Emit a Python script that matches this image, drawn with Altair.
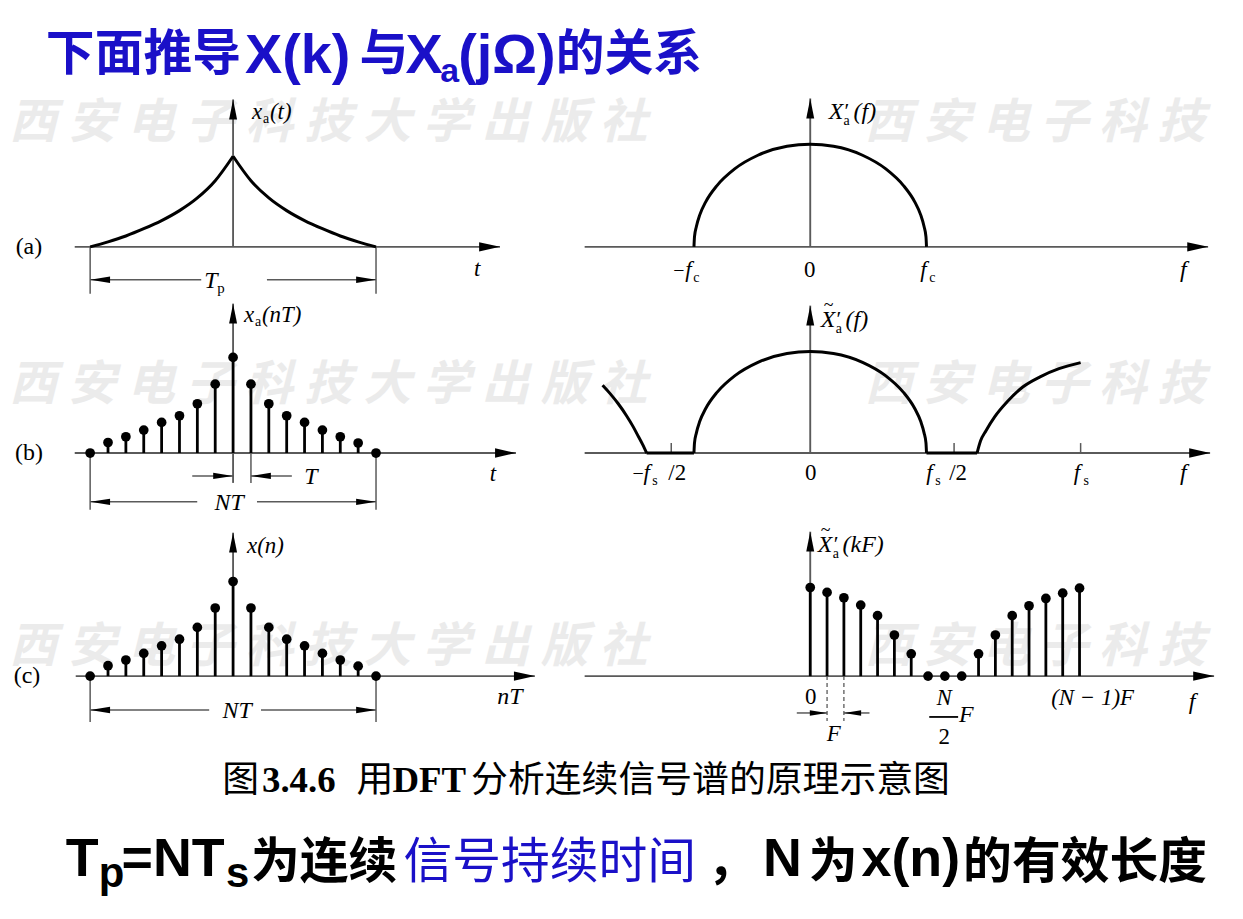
import altair as alt
import pandas as pd

# ---------------- values ----------------
# left column: x_a(t) sampled at t = nT, n = -8..8 (peak normalised to 1)
n_idx = list(range(-8, 9))
xa_samples = [0.0, 0.11, 0.17, 0.24, 0.32, 0.39, 0.515, 0.72, 1.0,
              0.72, 0.515, 0.39, 0.32, 0.24, 0.17, 0.105, 0.0]
# (a) left: continuous x_a(t) for t <= 0 (mirrored for t >= 0)
curve_t = [-8, -7, -6, -5, -4, -3, -2, -1, 0]
curve_h = [0.0, 0.055, 0.12, 0.2, 0.29, 0.4, 0.54, 0.73, 1.0]

# right column: spectrum, f in units of fs
lobe_f = [-0.43, -0.428, -0.421, -0.4085, -0.387, -0.344, -0.2795, -0.1935, -0.086, 0.0,
          0.086, 0.1935, 0.2795, 0.344, 0.387, 0.4085, 0.421, 0.428, 0.43]
lobe_h = [0.0, 0.10, 0.199, 0.312, 0.436, 0.60, 0.76, 0.893, 0.98, 1.0,
          0.98, 0.893, 0.76, 0.60, 0.436, 0.312, 0.199, 0.10, 0.0]
left_lobe_f = [-0.768, -0.74, -0.71, -0.68, -0.655, -0.635, -0.62, -0.605]
left_lobe_h = [0.667, 0.585, 0.485, 0.37, 0.26, 0.16, 0.085, 0.0]
right_lobe_f = [0.617, 0.63, 0.65, 0.682, 0.73, 0.786, 0.85, 0.92, 1.0]
right_lobe_h = [0.0, 0.12, 0.22, 0.356, 0.51, 0.65, 0.75, 0.83, 0.89]
flat_start = [-0.605, 0.43]
flat_end = [-0.43, 0.617]
tick_f = [-0.514, 0.532, 1.0]

# (c) right: DFT samples, k = 0..N-1
k_idx = list(range(17))
xk_samples = [1.0, 0.944, 0.884, 0.801, 0.682, 0.464, 0.251, 0.0, 0.0, 0.0,
              0.251, 0.464, 0.682, 0.794, 0.876, 0.936, 0.992]

watermark_left = "西安电子科技大学出版社"
watermark_right = "西安电子科技"

# ---------------- styling ----------------
BLACK = "#000000"
GRAY = "#5a5a5a"
BLUE = "#1a10c8"
WM = "#ebebeb"
CJK = "Noto Sans CJK SC"
STY = {
    "it": ("Liberation Serif", "italic", "normal"),
    "rm": ("Liberation Serif", "normal", "normal"),
    "rmb": ("Liberation Serif", "normal", "bold"),
    "sb": ("Liberation Sans", "normal", "bold"),
    "cj": (CJK, "normal", "normal"),
    "cjb": (CJK, "normal", "bold"),
}
AR_R = "M0,0L-2,-0.45L-2,0.45Z"
AR_U = "M0,0L-0.4,2L0.4,2Z"
DM_R = "M0,0L-2,-0.32L-2,0.32Z"
DM_L = "M0,0L2,-0.32L2,0.32Z"


def pc(t, dx=0, dy=0, size=23, sty="it", color=BLACK):
    return (t, dx, dy, size, sty, color)


class Panel:
    def __init__(self, x0, y0, w, h, ox=0.0, pux=1.0, oy=0.0, puy=-1.0):
        self.w, self.h = w, h
        self.ox, self.pux, self.oy, self.puy = ox, pux, oy, puy
        xd = [(x0 - ox) / pux, (x0 + w - ox) / pux]
        yd = [(oy - (y0 + h)) / puy, (oy - y0) / puy]
        self.xs = alt.Scale(domain=xd, nice=False, zero=False)
        self.ys = alt.Scale(domain=yd, nice=False, zero=False)
        self.layers = []

    def xi(self, px):
        return (px - self.ox) / self.pux

    def yi(self, py):
        return (self.oy - py) / self.puy

    def X(self):
        return alt.X("x:Q", scale=self.xs, axis=None)

    def Y(self):
        return alt.Y("y:Q", scale=self.ys, axis=None)

    def rules(self, segs, color=GRAY, width=1.6, dash=None):
        df = pd.DataFrame(segs, columns=["x", "y", "x2", "y2"])
        kw = dict(color=color, strokeWidth=width)
        if dash:
            kw["strokeDash"] = dash
        self.layers.append(alt.Chart(df).mark_rule(**kw).encode(
            x=self.X(), y=self.Y(), x2=alt.X2("x2:Q"), y2=alt.Y2("y2:Q")))

    def curve(self, xs, ys, width=3.0):
        df = pd.DataFrame({"x": xs, "y": ys, "o": list(range(len(xs)))})
        self.layers.append(alt.Chart(df).mark_line(
            interpolate="monotone", color=BLACK, strokeWidth=width).encode(
            x=self.X(), y=self.Y(), order="o:Q"))

    def stems(self, xs, ys):
        df = pd.DataFrame({"x": xs, "y": ys, "y0": [0.0] * len(xs)})
        self.layers.append(alt.Chart(df).mark_rule(color=BLACK, strokeWidth=2.8).encode(
            x=self.X(), y=self.Y(), y2=alt.Y2("y0:Q")))
        self.layers.append(alt.Chart(df).mark_circle(color=BLACK, opacity=1, size=95).encode(
            x=self.X(), y=self.Y()))

    def heads(self, pts):
        df = pd.DataFrame(pts, columns=["x", "y", "s", "z"])
        self.layers.append(alt.Chart(df).mark_point(filled=True, opacity=1, color=BLACK).encode(
            x=self.X(), y=self.Y(), shape=alt.Shape("s:N", scale=None),
            size=alt.Size("z:Q", scale=None)))

    def axes(self, x_left, x_right, y_top, y_bottom=None):
        yb = 0.0 if y_bottom is None else self.yi(y_bottom)
        self.rules([(self.xi(x_left), 0.0, self.xi(x_right), 0.0),
                    (0.0, yb, 0.0, self.yi(y_top))], GRAY, 1.9)
        self.heads([(self.xi(x_right), 0.0, AR_R, 440), (0.0, self.yi(y_top), AR_U, 400)])

    def text(self, x, y, pieces, align="left", baseline="alphabetic"):
        for (t, dx, dy, size, sty, color) in pieces:
            font, style, weight = STY[sty]
            df = pd.DataFrame({"x": [self.xi(x)], "y": [self.yi(y)], "t": [t]})
            self.layers.append(alt.Chart(df).mark_text(
                align=align, baseline=baseline, dx=dx, dy=dy, font=font, fontSize=size,
                fontStyle=style, fontWeight=weight, color=color).encode(
                x=self.X(), y=self.Y(), text="t:N"))

    def watermark(self, chars, xs, y):
        df = pd.DataFrame({"x": [self.xi(v) for v in xs], "y": [self.yi(y)] * len(xs),
                           "t": list(chars)})
        self.layers.append(alt.Chart(df).mark_text(
            font=CJK, fontSize=48, fontStyle="italic", fontWeight="bold", color=WM,
            baseline="middle").encode(x=self.X(), y=self.Y(), text="t:N"))

    def chart(self):
        return alt.layer(*self.layers).properties(width=self.w, height=self.h)


WL = [28 + 59.3 * i for i in range(len(watermark_left))]
WR = [887 + 58.8 * i for i in range(len(watermark_right))]


def xa_label(p, x, y, arg):
    p.text(x, y, [pc("x", 0, 0, 23, "it"), pc("a", 11, 4, 14, "rm"), pc(arg, 18, 0, 23, "it")])


def X_label(p, x, y, arg, tilde=False):
    pieces = []
    if tilde:
        pieces.append(pc("~", 3, -16, 18, "rm"))
    pieces += [pc("X", 0, 0, 24, "it"), pc("′", 16, -1, 22, "rm"),
               pc("a", 15, 6, 14, "rm"), pc(arg, 25, 0, 24, "it")]
    p.text(x, y, pieces)


# ---------------- row (a) (also carries the title) ----------------
La = Panel(8, 8, 552, 292, 229, 17.94, 246, 91)
La.watermark(watermark_left, WL, 123)
La.axes(70, 497, 98)
yd = La.yi(279)
La.rules([(-8, 0, -8, La.yi(293)), (8, 0, 8, La.yi(293)),
          (-8, yd, La.xi(197), yd), (La.xi(263), yd, 8, yd)], GRAY, 1.5)
La.heads([(-8, yd, DM_L, 400), (8, yd, DM_R, 400)])
La.curve(curve_t, curve_h)
La.curve([-t for t in curve_t], curve_h)
La.text(24, 246, [pc("(a)", 0, 0, 24, "rm")], align="center", baseline="middle")
xa_label(La, 248, 118, "(t)")
La.text(474, 275, [pc("t", 0, 0, 23, "it")], align="center")
La.text(200, 287, [pc("T", 0, 0, 24, "it"), pc("p", 13, 5, 15, "rm")])
for x, y, t, size, sty in [(41, 68, "下面推导", 49, "cjb"), (241, 71, "X(k)", 56, "sb"),
                           (356, 68, "与", 49, "cjb"), (402, 71, "X", 56, "sb"),
                           (437, 80, "a", 34, "sb"), (455, 71, "(jΩ)", 56, "sb"),
                           (553, 68, "的关系", 49, "cjb")]:
    La.text(x, y, [pc(t, 0, 0, size, sty, BLUE)])

Ra = Panel(560, 8, 675, 292, 808.5, 271.5, 246, 103)
Ra.watermark(watermark_right, WR, 123)
Ra.axes(582, 1208, 97)
Ra.curve(lobe_f, lobe_h)
X_label(Ra, 827, 118, "(f)")
Ra.text(671, 276, [pc("−", 0, 0, 20, "rm"), pc("f", 12, 0, 23, "it"), pc("c", 20, 5, 14, "rm")])
Ra.text(808, 276, [pc("0", 0, 0, 23, "rm")], align="center")
Ra.text(919, 276, [pc("f", 0, 0, 23, "it"), pc("c", 9, 5, 14, "rm")])
Ra.text(1183, 276, [pc("f", 0, 0, 24, "it")], align="center")

# ---------------- row (b) ----------------
Lb = Panel(8, 300, 552, 220, 229, 17.94, 453, 96)
Lb.watermark(watermark_left, WL, 386)
Lb.axes(70, 513, 303, y_bottom=483)
yT = Lb.yi(476)
yN = Lb.yi(502)
Lb.rules([(1, 0, 1, Lb.yi(483)),
          (Lb.xi(188), yT, 0, yT), (1, yT, Lb.xi(288), yT),
          (-8, 0, -8, Lb.yi(510)), (8, 0, 8, Lb.yi(510)),
          (-8, yN, Lb.xi(193), yN), (Lb.xi(253), yN, 8, yN)], GRAY, 1.5)
Lb.heads([(0, yT, DM_R, 400), (1, yT, DM_L, 400), (-8, yN, DM_L, 400), (8, yN, DM_R, 400)])
Lb.stems(n_idx, xa_samples)
Lb.text(24, 453, [pc("(b)", 0, 0, 24, "rm")], align="center", baseline="middle")
xa_label(Lb, 240, 321, "(nT)")
Lb.text(490, 481, [pc("t", 0, 0, 23, "it")], align="center")
Lb.text(307, 484, [pc("T", 0, 0, 24, "it")], align="center")
Lb.text(225, 510, [pc("NT", 0, 0, 24, "it")], align="center")

Rb = Panel(560, 300, 675, 220, 808.5, 271.5, 453, 102)
Rb.watermark(watermark_right, WR, 386)
Rb.axes(582, 1210, 305)
Rb.rules([(f, 0, f, Rb.yi(443)) for f in tick_f], GRAY, 1.5)
Rb.rules([(a, 0, b, 0) for a, b in zip(flat_start, flat_end)], BLACK, 3.0)
Rb.curve(left_lobe_f, left_lobe_h)
Rb.curve(lobe_f, lobe_h)
Rb.curve(right_lobe_f, right_lobe_h)
X_label(Rb, 819, 326, "(f)", tilde=True)
Rb.text(630, 480, [pc("−", 0, 0, 20, "rm"), pc("f", 11, 0, 23, "it"), pc("s", 20, 5, 14, "rm"),
                   pc("/2", 36, 0, 23, "rm")])
Rb.text(809, 480, [pc("0", 0, 0, 23, "rm")], align="center")
Rb.text(925, 480, [pc("f", 0, 0, 23, "it"), pc("s", 9, 5, 14, "rm"), pc("/2", 23, 0, 23, "rm")])
Rb.text(1073, 480, [pc("f", 0, 0, 23, "it"), pc("s", 10, 5, 14, "rm")])
Rb.text(1183, 480, [pc("f", 0, 0, 24, "it")], align="center")

# ---------------- row (c) (also carries caption and bottom line) ----------------
Lc = Panel(8, 520, 552, 391, 229, 17.94, 677, 95)
Lc.watermark(watermark_left, WL, 649)
Lc.axes(71, 532, 533)
yN = Lc.yi(711)
Lc.rules([(-8, 0, -8, Lc.yi(723)), (8, 0, 8, Lc.yi(723)),
          (-8, yN, Lc.xi(205), yN), (Lc.xi(257), yN, 8, yN)], GRAY, 1.5)
Lc.heads([(-8, yN, DM_L, 400), (8, yN, DM_R, 400)])
Lc.stems(n_idx, xa_samples)
Lc.text(22, 677, [pc("(c)", 0, 0, 24, "rm")], align="center", baseline="middle")
Lc.text(243, 553, [pc("x(n)", 0, 0, 23, "it")])
Lc.text(507, 705, [pc("nT", 0, 0, 24, "it")], align="center")
Lc.text(233, 719, [pc("NT", 0, 0, 24, "it")], align="center")
for x, t, sty in [(218, "图", "cj"), (258, "3.4.6", "rmb"), (353, "用", "cj"),
                  (389, "DFT", "rmb"), (468, "分析连续信号谱的原理示意图", "cj")]:
    Lc.text(x, 793, [pc(t, 0, 0, 37, sty)])
for x, y, t, size, sty, col in [
        (61, 878, "T", 54, "sb", BLACK), (94, 889, "p", 42, "sb", BLACK),
        (117, 878, "=NT", 54, "sb", BLACK), (222, 889, "s", 42, "sb", BLACK),
        (247, 880, "为连续", 49, "cjb", BLACK), (400, 880, "信号持续时间", 49, "cj", BLUE),
        (705, 880, "，", 49, "cjb", BLACK), (761, 878, "N", 54, "sb", BLACK),
        (807, 880, "为", 49, "cjb", BLACK), (860, 878, "x(n)", 54, "sb", BLACK),
        (962, 880, "的有效长度", 49, "cjb", BLACK)]:
    Lc.text(x, y, [pc(t, 0, 0, size, sty, col)])

Rc = Panel(560, 520, 675, 391, 808.5, 16.9, 677, 89)
Rc.watermark(watermark_right, WR, 649)
Rc.axes(582, 1214, 532)
yF = Rc.yi(714)
Rc.rules([(1, 0, 1, Rc.yi(722)), (2, 0, 2, Rc.yi(722))], GRAY, 1.3, dash=[4, 3])
Rc.rules([(Rc.xi(795), yF, 1, yF), (2, yF, Rc.xi(868), yF)], GRAY, 1.5)
Rc.heads([(1, yF, DM_R, 300), (2, yF, DM_L, 300)])
Rc.rules([(Rc.xi(928), Rc.yi(718), Rc.xi(957), Rc.yi(718))], BLACK, 1.8)
Rc.stems(k_idx, xk_samples)
X_label(Rc, 816, 552, "(kF)", tilde=True)
Rc.text(809, 705, [pc("0", 0, 0, 23, "rm")], align="center")
Rc.text(832, 742, [pc("F", 0, 0, 23, "it")], align="center")
Rc.text(943, 706, [pc("N", 0, 0, 23, "it")], align="center")
Rc.text(943, 745, [pc("2", 0, 0, 23, "rm")], align="center")
Rc.text(958, 723, [pc("F", 0, 0, 24, "it")])
Rc.text(1092, 706, [pc("(N − 1)F", 0, 0, 23, "it")], align="center")
Rc.text(1192, 710, [pc("f", 0, 0, 24, "it")], align="center")

chart = alt.concat(La.chart(), Ra.chart(), Lb.chart(), Rb.chart(), Lc.chart(), Rc.chart(),
                   columns=2, spacing=0, bounds="flush").configure_view(strokeWidth=0).properties(
    padding=0, background="white")

chart.save("out.html", embed_options={"renderer": "svg", "actions": False})
